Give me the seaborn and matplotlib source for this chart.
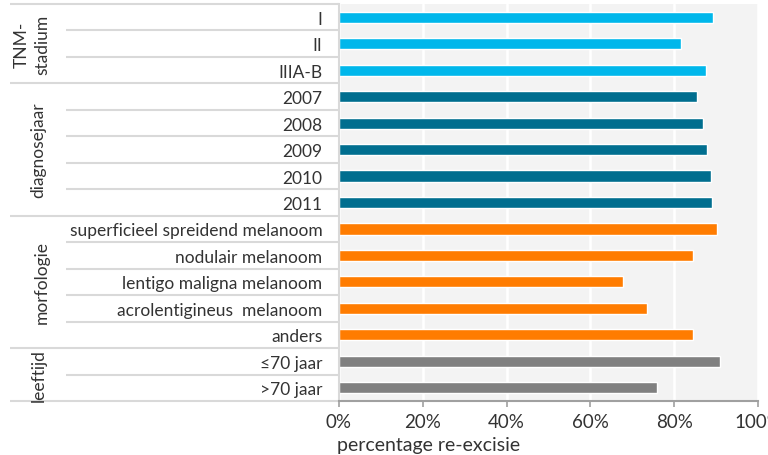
import numpy as np
import pandas as pd
import matplotlib
matplotlib.use("Agg")
import matplotlib.pyplot as plt
import matplotlib.transforms as mtrans
import seaborn as sns

categories = ["I", "II", "IIIA-B",
              "2007", "2008", "2009", "2010", "2011",
              "superficieel spreidend melanoom", "nodulair melanoom",
              "lentigo maligna melanoom", "acrolentigineus  melanoom", "anders",
              "≤70 jaar", ">70 jaar"]
values = [89.3, 81.6, 87.6,
          85.4, 86.9, 87.8, 88.8, 89.0,
          90.2, 84.5, 67.8, 73.5, 84.5,
          90.9, 75.9]
groups = ["TNM"] * 3 + ["jaar"] * 5 + ["morf"] * 5 + ["leeftijd"] * 2
group_names = ["TNM-\nstadium", "diagnosejaar", "morfologie", "leeftijd"]
group_keys = ["TNM", "jaar", "morf", "leeftijd"]
palette = {"TNM": "#00B7EB", "jaar": "#006E8F", "morf": "#FF7C00", "leeftijd": "#808080"}
xticks = [0, 20, 40, 60, 80, 100]
xtick_labels = ["0%", "20%", "40%", "60%", "80%", "100%"]

sns.set_theme(style="white")
plt.rcParams["font.family"] = ["Lato", "DejaVu Sans"]

fig = plt.figure(figsize=(7.68, 4.56), dpi=100)
ax = fig.add_axes([339 / 768, 1 - 402 / 456, 419 / 768, 397 / 456])

df = pd.DataFrame({"cat": categories, "val": values, "grp": groups})
sns.barplot(data=df, y="cat", x="val", hue="grp", palette=palette, dodge=False,
            width=0.42, ax=ax, legend=False, orient="h", saturation=1)

ax.set_facecolor("#F3F3F3")
ax.set_xlim(0, 100)
ax.set_ylim(len(categories) - 0.5, -0.5)
ax.set_xticks(xticks)
ax.set_xticklabels(xtick_labels, fontsize=13.5, color="#333333")
ax.grid(axis="x", color="white", lw=1.8)
ax.grid(axis="y", visible=False)
ax.set_axisbelow(True)
ax.set_xlabel("")
ax.set_ylabel("")
ax.tick_params(axis="y", length=0, pad=12, labelsize=12.5, labelcolor="#333333")
ax.tick_params(axis="x", length=4.5, width=1.2, color="#A0A0A0", pad=4, bottom=True)
for s in ["top", "right"]:
    ax.spines[s].set_visible(False)
ax.spines["bottom"].set_color("#A0A0A0")
ax.spines["bottom"].set_linewidth(1.5)
ax.spines["left"].set_color("#D9D9D9")
ax.spines["left"].set_linewidth(1.5)

trans = mtrans.blended_transform_factory(ax.transAxes, ax.transData)
x_inner = (66 - 339) / 419
x_outer = (10 - 339) / 419
group_bounds = [-0.5]
for k in group_keys:
    group_bounds.append(group_bounds[-1] + groups.count(k))
for b in np.arange(-0.5, len(categories), 1.0):
    xs = x_outer if any(abs(b - g) < 1e-9 for g in group_bounds) else x_inner
    ax.plot([xs, 0], [b, b], transform=trans, color="#D9D9D9", lw=1.5,
            clip_on=False, solid_capstyle="butt")

label_x = [32, 38, 42, 39]
for i, name in enumerate(group_names):
    yc = (group_bounds[i] + group_bounds[i + 1]) / 2
    ax.text((label_x[i] - 339) / 419, yc, name, transform=trans, rotation=90,
            ha="center", va="center", fontsize=12.5, color="#333333",
            linespacing=1.3)

ax.text(-0.005, -0.088, "percentage re-excisie", transform=ax.transAxes,
        ha="left", va="top", fontsize=14, color="#333333")

fig.savefig("out.png", dpi=100)
